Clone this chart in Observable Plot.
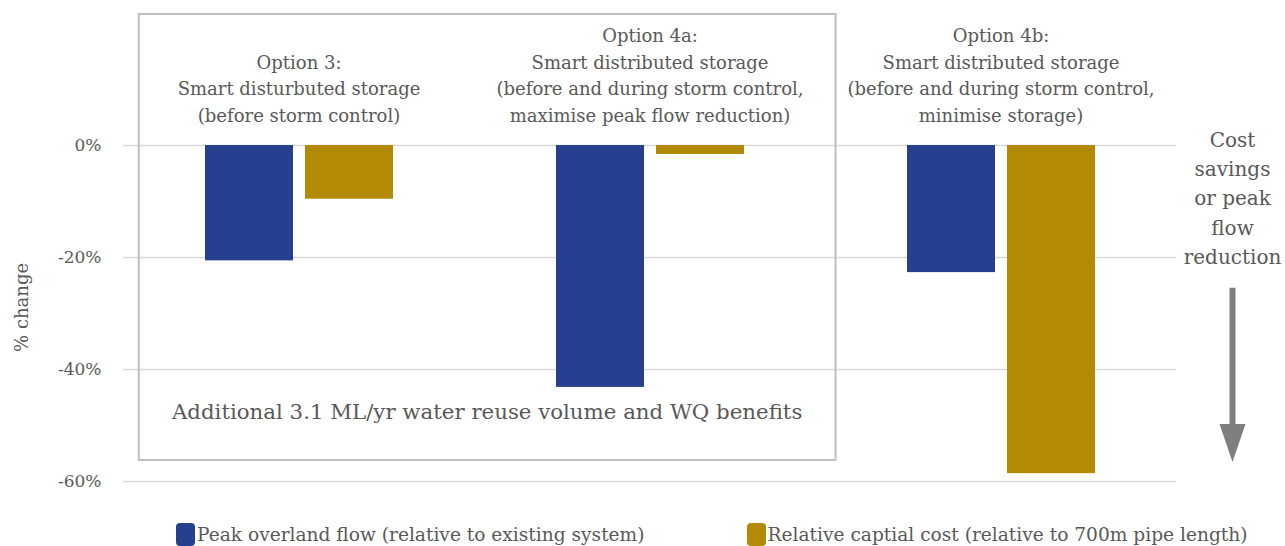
<!DOCTYPE html>
<html><head><meta charset="utf-8">
<script src="https://cdn.jsdelivr.net/npm/d3@7"></script>
<script src="https://cdn.jsdelivr.net/npm/@observablehq/plot@0.6"></script>
<style>
body{margin:0;background:#fff;font-family:"DejaVu Serif",serif;color:#595959}
#chart{width:1285px;height:546px;overflow:hidden}
#chart svg{display:block}
#legend{display:flex;height:24px;margin-top:4px;padding-left:176px;font-size:18.6px;color:#595959;align-items:center}
.item{display:flex;align-items:center;white-space:nowrap}
.sw{width:19px;height:23px;border-radius:4px;margin-right:2px}
</style></head><body><div id="chart"></div><script>
const options = ["Option 3", "Option 4a", "Option 4b"];
const optionLabels = [
  "Option 3:\nSmart disturbuted storage\n(before storm control)",
  "Option 4a:\nSmart distributed storage\n(before and during storm control,\nmaximise peak flow reduction)",
  "Option 4b:\nSmart distributed storage\n(before and during storm control,\nminimise storage)"
];
const series = ["Peak overland flow (relative to existing system)", "Relative captial cost (relative to 700m pipe length)"];
const peakFlow = [-0.206, -0.432, -0.227];
const capitalCost = [-0.096, -0.016, -0.586];
const colors = ["#26408F", "#B28A04"];
const yTicks = [0, -0.2, -0.4, -0.6];
const yLabel = "% change";
const annotationText = "Additional 3.1 ML/yr water reuse volume and WQ benefits";
const sideNote = ["Cost", "savings", "or peak", "flow", "reduction"];

const data = options.flatMap((o, i) => [
  {option: o, series: series[0], value: peakFlow[i]},
  {option: o, series: series[1], value: capitalCost[i]}
]);
const labelData = options.map((o, i) => ({option: o, label: optionLabels[i]}));

const W = 1285, H = 518;
const plot = Plot.plot({
  width: W, height: H,
  marginLeft: 122, marginRight: 109, marginTop: 145, marginBottom: 37,
  style: {fontFamily: "DejaVu Serif", fontSize: "17px", color: "#595959", background: "white", overflow: "visible"},
  fx: {domain: options, padding: 0, axis: null},
  x: {domain: series, paddingInner: 0.12, paddingOuter: 0.815, axis: null},
  y: {domain: [-0.6, 0], ticks: yTicks, tickFormat: d => Math.round(d * 100) + "%", tickSize: 0, tickPadding: 22, label: null},
  color: {domain: series, range: colors},
  marks: [
    Plot.gridY(yTicks, {stroke: "#d9d9d9", strokeOpacity: 1, strokeWidth: 1.5}),
    Plot.barY(data, {fx: "option", x: "series", y: "value", fill: "series"}),
    Plot.text(labelData, {fx: "option", text: "label", frameAnchor: "top", lineAnchor: "bottom", dy: -24, lineHeight: 1.47, fontSize: 18, fill: "#595959"})
  ]
});
document.getElementById("chart").appendChild(plot);

// overlays positioned through the plot's own scales
const svg = d3.select(plot);
const fx = plot.scale("fx"), y = plot.scale("y");
const bw = fx.bandwidth;
const x0 = fx.apply(options[0]);

svg.append("text").attr("transform", `translate(${x0 - 101},${y.apply(-0.29)}) rotate(-90)`)
  .attr("text-anchor", "middle").attr("dy", "0.35em").attr("font-size", 18).attr("fill", "#595959").text(yLabel);

const boxX1 = x0 + bw * 0.045;
const boxX2 = fx.apply(options[1]) + bw * 1.03;
const boxY1 = y.apply(0.234), boxY2 = y.apply(-0.5625);
svg.append("rect").attr("x", boxX1).attr("y", boxY1).attr("width", boxX2 - boxX1).attr("height", boxY2 - boxY1)
  .attr("fill", "none").attr("stroke", "#bfbfbf").attr("stroke-width", 2);
svg.append("text").attr("x", (boxX1 + boxX2) / 2).attr("y", y.apply(-0.489)).attr("text-anchor", "middle")
  .attr("font-size", 21.3).attr("fill", "#595959").text(annotationText);

const sideX = fx.apply(options[2]) + bw * 1.161;
const st = svg.append("text").attr("text-anchor", "middle").attr("font-size", 20).attr("fill", "#595959");
sideNote.forEach((s, i) => st.append("tspan").attr("x", sideX).attr("y", y.apply(-0.003 - i * 0.0525)).text(s));
const a1 = y.apply(-0.255), a2 = y.apply(-0.566), ah = 38;
svg.append("line").attr("x1", sideX).attr("x2", sideX).attr("y1", a1).attr("y2", a2 - ah + 2)
  .attr("stroke", "#7f7f7f").attr("stroke-width", 6);
svg.append("path").attr("d", `M${sideX - 13},${a2 - ah}L${sideX + 13},${a2 - ah}L${sideX},${a2}Z`).attr("fill", "#7f7f7f");

// legend
const legend = d3.select("#chart").append("div").attr("id", "legend");
series.forEach((s, i) => {
  const it = legend.append("div").attr("class", "item").style("margin-right", i === 0 ? "102px" : "0");
  it.append("div").attr("class", "sw").style("background", colors[i]);
  it.append("span").text(s);
});
</script></body></html>
